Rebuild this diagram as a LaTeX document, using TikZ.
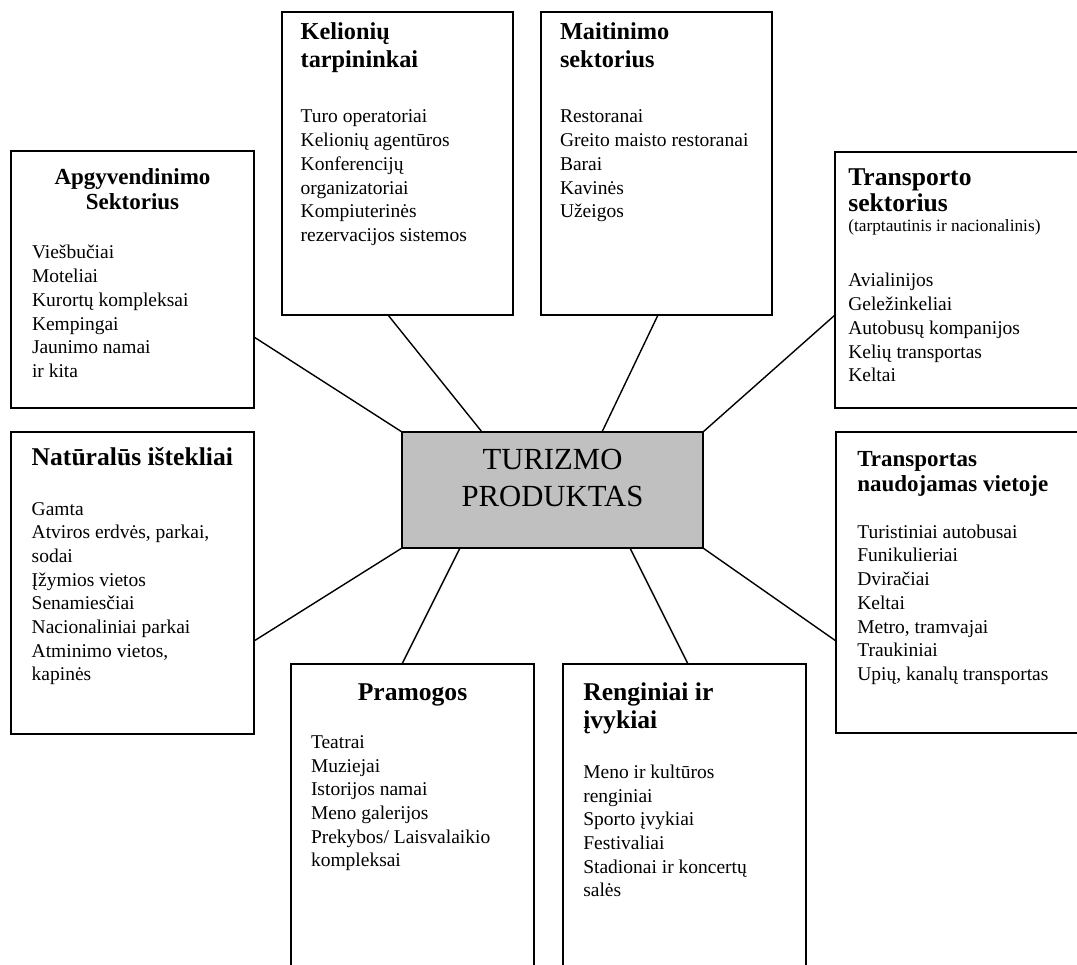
\documentclass[tikz,border=0pt]{standalone}
\usepackage{fontspec}
\setmainfont{Liberation Serif}
\usetikzlibrary{calc}
\definecolor{centrefill}{RGB}{192,192,192}
\newcommand\lns[1]{\begin{tabular}[t]{@{}l@{}}#1\end{tabular}}
\newcommand\clns[1]{\begin{tabular}[t]{@{}c@{}}#1\end{tabular}}
\newcommand\bdyfont{\fontsize{19.5}{23.7}\selectfont}
\newcommand\ttlfont[2]{\fontsize{#1}{#2}\selectfont\bfseries}
\newcommand\smlfont{\fontsize{17.3}{20}\selectfont}
\newcommand\cntfont{\fontsize{30.7}{37}\selectfont}
\begin{document}
\begin{tikzpicture}[x=1pt,y=-1pt,
  box/.style={draw, line width=1.6pt, inner sep=0pt, outer sep=0pt, anchor=north west},
  conn/.style={line width=1.4pt},
  txt/.style={inner sep=0pt, outer sep=0pt, anchor=base west},
  boxbody/.style={txt, font=\bdyfont},
  boxsmall/.style={txt, font=\smlfont}]
\useasboundingbox (0,0) rectangle (1077,965);
\clip (0,0) rectangle (1077,965);

% boxes
\node[box, minimum width=243pt, minimum height=257pt] (apg) at (11,151) {};
\node[box, minimum width=231pt, minimum height=303pt] (kel) at (282,12) {};
\node[box, minimum width=231pt, minimum height=303pt] (mai) at (541,12) {};
\node[box, minimum width=300pt, minimum height=256pt] (trs) at (835,152) {};
\node[box, minimum width=243pt, minimum height=302pt] (nat) at (11,432) {};
\node[box, minimum width=300pt, minimum height=301pt] (trn) at (836,432) {};
\node[box, minimum width=243pt, minimum height=400pt] (pra) at (291,664) {};
\node[box, minimum width=243pt, minimum height=400pt] (ren) at (563,664) {};
\node[box, fill=centrefill, minimum width=301pt, minimum height=116pt] (tp) at (402,432) {};

% connectors
\draw[conn] (apg.east |- 0,337) -- (tp.north west);
\draw[conn] (388,0 |- kel.south) -- (482,0 |- tp.north);
\draw[conn] (658,0 |- mai.south) -- (602,0 |- tp.north);
\draw[conn] (trs.west |- 0,315) -- (tp.north east);
\draw[conn] (trn.west |- 0,641) -- (tp.south east);
\draw[conn] (nat.east |- 0,641) -- (tp.south west);
\draw[conn] (402,0 |- pra.north) -- (460,0 |- tp.south);
\draw[conn] (688,0 |- ren.north) -- (630,0 |- tp.south);

% centre text
\node[inner sep=0pt, anchor=base, font=\cntfont] (tpt) at (552.5,470) {\clns{TURIZMO\\PRODUKTAS}};

% Apgyvendinimo
\node[txt, anchor=base, font=\ttlfont{23}{25}] (apgT) at (132.5,185) {\clns{Apgyvendinimo\\Sektorius}};
\node[boxbody] (apgB) at (32,259) {\lns{Viešbučiai\\Moteliai\\Kurortų kompleksai\\Kempingai\\Jaunimo namai\\ir kita}};

% Kelionių tarpininkai
\node[txt, font=\ttlfont{24.3}{28}] (kelT) at (300.7,40) {\lns{Kelionių\\tarpininkai}};
\node[boxbody] (kelB) at (300.7,123) {\lns{Turo operatoriai\\Kelionių agentūros\\Konferencijų\\organizatoriai\\Kompiuterinės\\rezervacijos sistemos}};

% Maitinimo sektorius
\node[txt, font=\ttlfont{24.3}{28}] (maiT) at (560,40) {\lns{Maitinimo\\sektorius}};
\node[boxbody] (maiB) at (560,123) {\lns{Restoranai\\Greito maisto restoranai\\Barai\\Kavinės\\Užeigos}};

% Transporto sektorius
\node[txt, font=\ttlfont{25.6}{26}] (trsT) at (848.3,186) {\lns{Transporto\\sektorius}};
\node[boxsmall] (trsS) at (848.3,232) {(tarptautinis ir nacionalinis)};
\node[boxbody] (trsB) at (848.3,287) {\lns{Avialinijos\\Geležinkeliai\\Autobusų kompanijos\\Kelių transportas\\Keltai}};

% Natūralūs ištekliai
\node[txt, font=\ttlfont{25.6}{28}] (natT) at (31.7,466) {Natūralūs ištekliai};
\node[boxbody] (natB) at (31.7,515) {\lns{Gamta\\Atviros erdvės, parkai,\\sodai\\Įžymios vietos\\Senamiesčiai\\Nacionaliniai parkai\\Atminimo vietos,\\kapinės}};

% Transportas naudojamas vietoje
\node[txt, font=\ttlfont{23}{24.5}] (trnT) at (857.3,466.7) {\lns{Transportas\\naudojamas vietoje}};
\node[boxbody] (trnB) at (857.3,538.3) {\lns{Turistiniai autobusai\\Funikulieriai\\Dviračiai\\Keltai\\Metro, tramvajai\\Traukiniai\\Upių, kanalų transportas}};

% Pramogos
\node[txt, anchor=base, font=\ttlfont{25.6}{28}] (praT) at (412.5,700) {Pramogos};
\node[boxbody] (praB) at (311,748.3) {\lns{Teatrai\\Muziejai\\Istorijos namai\\Meno galerijos\\Prekybos/ Laisvalaikio\\kompleksai}};

% Renginiai ir įvykiai
\node[txt, font=\ttlfont{25.6}{28.5}] (renT) at (583.3,700) {\lns{Renginiai ir\\įvykiai}};
\node[boxbody] (renB) at (583.3,778.3) {\lns{Meno ir kultūros\\renginiai\\Sporto įvykiai\\Festivaliai\\Stadionai ir koncertų\\salės}};
\end{tikzpicture}
\end{document}
